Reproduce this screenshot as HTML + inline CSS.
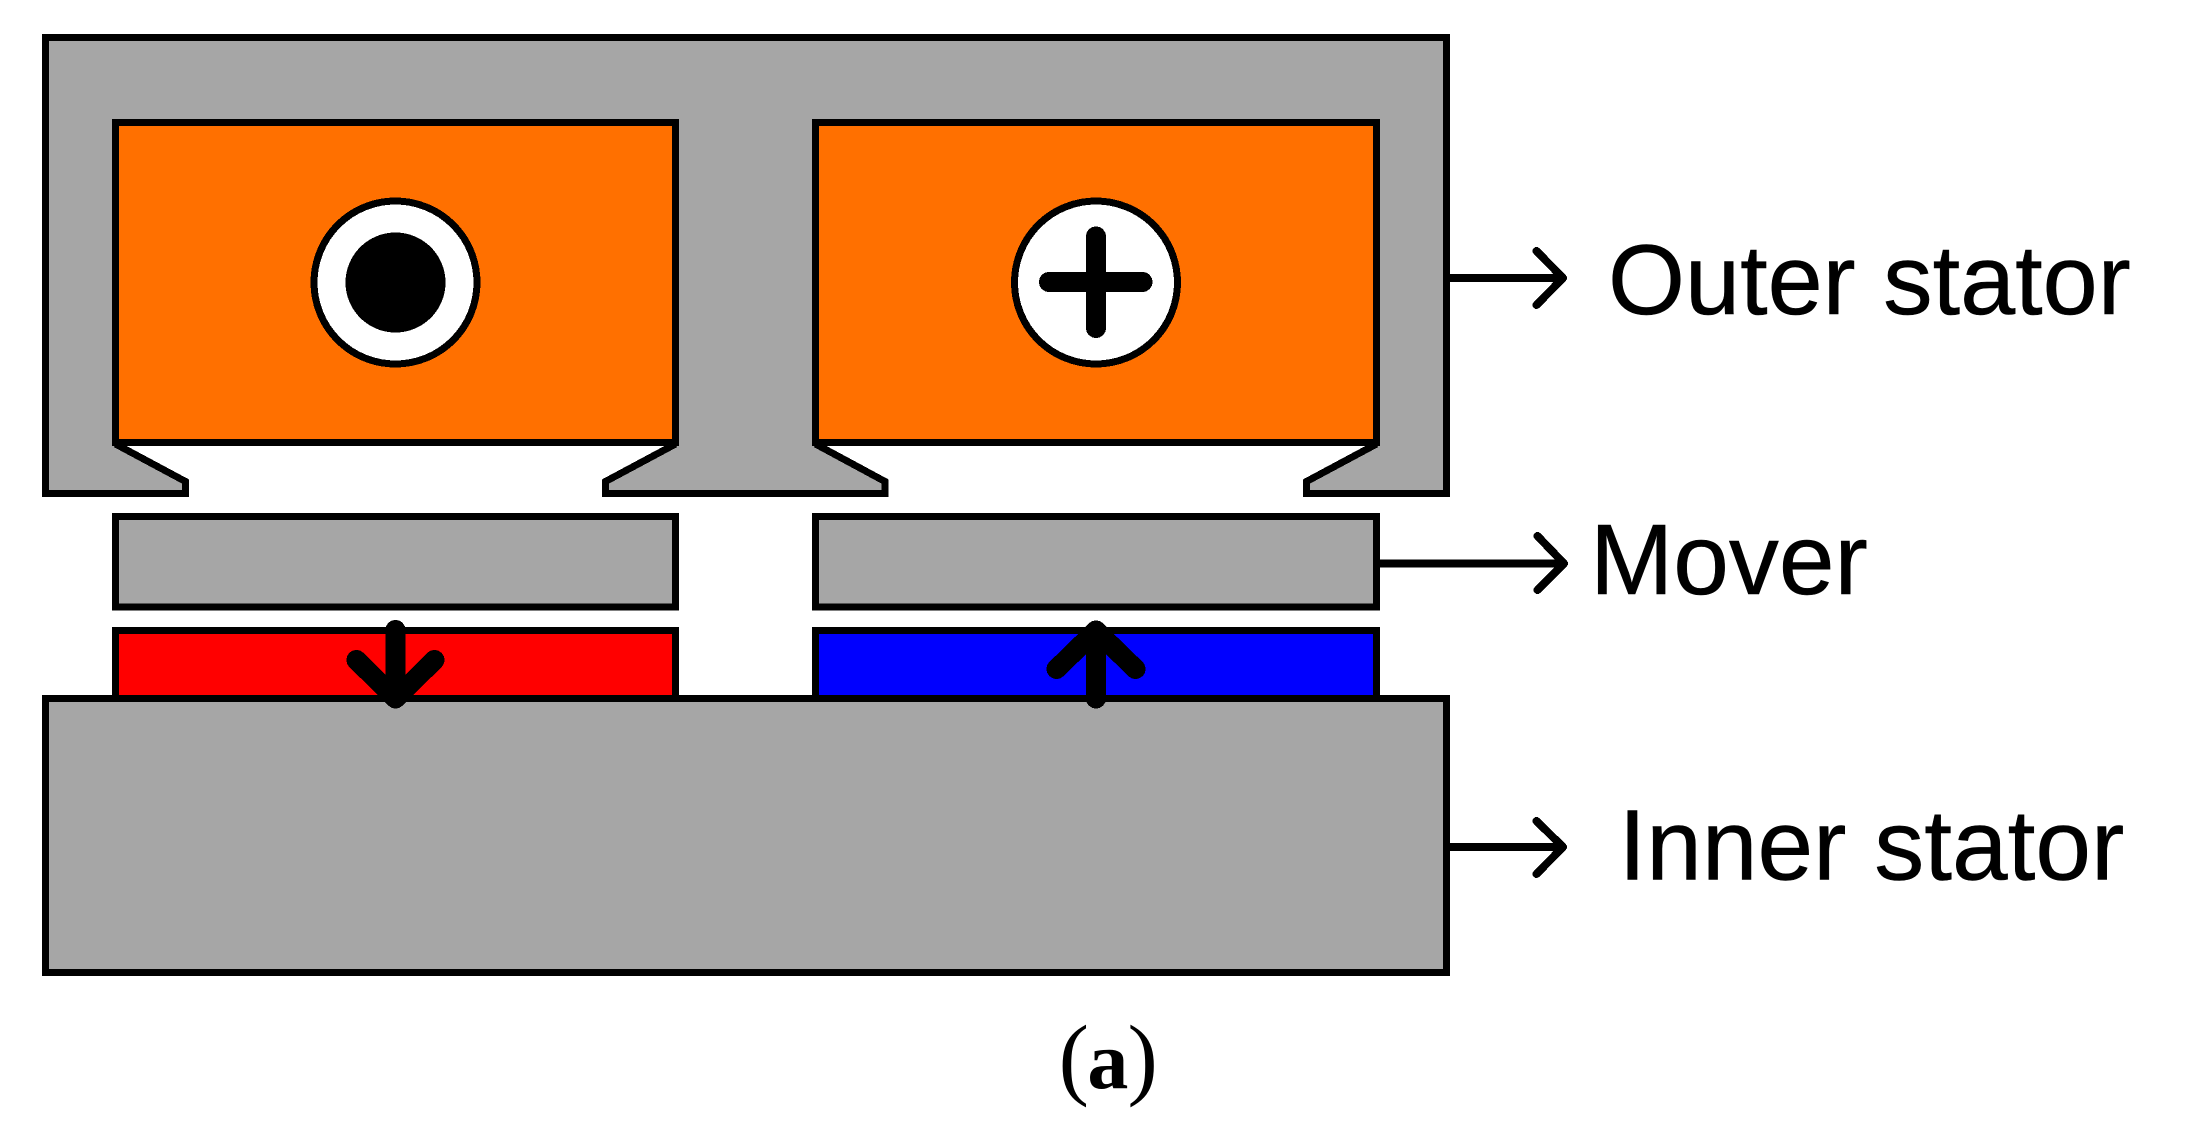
<!DOCTYPE html>
<html>
<head>
<meta charset="utf-8">
<style>
html,body{margin:0;padding:0;background:#fff;width:2190px;height:1142px;overflow:hidden}
svg{display:block}
text{fill:#000}
.c *{shape-rendering:crispEdges}
</style>
</head>
<body>
<svg width="2190" height="1142" viewBox="0 0 2190 1142" xmlns="http://www.w3.org/2000/svg">
<rect width="2190" height="1142" fill="#fff"/>
<g class="c">
<!-- Outer stator -->
<path d="M45.500 37.500H1446.500V493.500H1306.500V481.500L1376.500 444H815.500L885 481.500V493.500H605.500V481.500L675.500 444H115.500L185.500 481.500V493.500H45.500Z" fill="#a6a6a6"/>
<path d="M115.500 444L185.500 481.500V493.500H45.500V37.500H1446.500V493.500H1306.500V481.500L1376.500 444M815.500 444L885 481.500V493.500H605.500V481.500L675.500 444" fill="none" stroke="#000" stroke-width="7" stroke-linejoin="miter"/>
<!-- Coils -->
<rect x="115.500" y="122.500" width="560" height="320" fill="#ff7000" stroke="#000" stroke-width="7"/>
<rect x="815.500" y="122.500" width="561" height="320" fill="#ff7000" stroke="#000" stroke-width="7"/>
<!-- Current symbols -->
<circle cx="395.500" cy="282.500" r="81.500" fill="#fff" stroke="#000" stroke-width="7"/>
<circle cx="395.500" cy="282.500" r="50" fill="#000"/>
<circle cx="1096" cy="282.500" r="81.500" fill="#fff" stroke="#000" stroke-width="7"/>
<path d="M1096 236.500V328M1049 282H1142.500" fill="none" stroke="#000" stroke-width="20" stroke-linecap="round"/>
<!-- Movers -->
<rect x="115.500" y="516.500" width="560" height="90.500" fill="#a6a6a6" stroke="#000" stroke-width="7"/>
<rect x="815.500" y="516.500" width="561" height="90.500" fill="#a6a6a6" stroke="#000" stroke-width="7"/>
<!-- Magnets -->
<rect x="115.500" y="630.500" width="560" height="80" fill="#ff0000" stroke="#000" stroke-width="7"/>
<rect x="815.500" y="630.500" width="561" height="80" fill="#0000ff" stroke="#000" stroke-width="7"/>
<!-- Inner stator -->
<rect x="45.500" y="698.500" width="1401" height="274" fill="#a6a6a6" stroke="#000" stroke-width="7"/>
<!-- Magnetization arrows -->
<path d="M395.500 630V698.500M356.500 660L395.500 698.500L434.500 660" fill="none" stroke="#000" stroke-width="20" stroke-linecap="round" stroke-linejoin="round"/>
<path d="M1096 698.500V630.500M1056.500 669L1096 630.500L1135.500 669" fill="none" stroke="#000" stroke-width="20" stroke-linecap="round" stroke-linejoin="round"/>
<!-- Leader arrows -->
<g fill="none" stroke="#000" stroke-width="8" stroke-linecap="round" stroke-linejoin="round">
<path d="M1450 278H1563M1536.500 251L1563 278L1536.500 305"/>
<path d="M1380 563.500H1564M1537.500 536L1564 563.500L1537.500 590"/>
<path d="M1450 847H1563M1536.500 821L1563 847L1536.500 874"/>
</g>
</g>
<!-- Labels -->
<g font-family="'Liberation Sans', sans-serif" stroke="#000" stroke-width="0.5">
<text x="1608" y="314" font-size="99">Outer stator</text>
<text x="1590" y="594" font-size="100">Mover</text>
<text x="1618.500" y="879.500" font-size="100">Inner stator</text>
</g>
<g font-family="'Liberation Serif', serif">
<text x="1058.600" y="1088" font-size="91">(</text>
<text x="1087.400" y="1088" font-size="82" font-weight="bold">a</text>
<text x="1127.500" y="1088" font-size="91">)</text>
</g>
</svg>
</body>
</html>
